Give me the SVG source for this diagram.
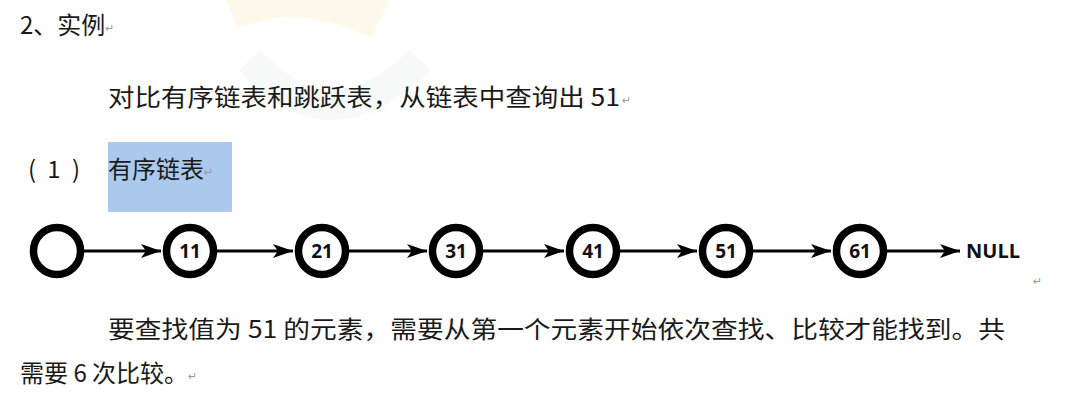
<svg xmlns="http://www.w3.org/2000/svg" width="1091" height="414" viewBox="0 0 1091 414">
<style>
.t{font-family:"Noto Sans CJK SC","Noto Sans",sans-serif;font-size:24px;fill:#1a1a1a}
.n{font-family:"Open Sans","Noto Sans",sans-serif;font-weight:bold;font-size:19px;fill:#111;text-anchor:middle}
.c{fill:#fff;stroke:#000;stroke-width:7.5}
.e{stroke:#000;stroke-width:3;fill:none;marker-end:url(#ah)}
.r{font-family:"DejaVu Sans",sans-serif;font-size:11px;fill:#999}
</style>
<defs>
<marker id="ah" markerUnits="userSpaceOnUse" markerWidth="22" markerHeight="16" refX="20" refY="8" orient="auto">
<path d="M0,1 L20,8 L0,15 L5,8 z" fill="#000"/>
</marker>
</defs>
<rect width="1091" height="414" fill="#fff"/>
<g id="watermark" opacity="0.35">
<path d="M230,10 Q300,-20 380,20" stroke="#fdf0c8" stroke-width="40" fill="none"/>
<path d="M250,60 Q330,150 420,60" stroke="#e6f5ef" stroke-width="30" fill="none"/>
</g>
<g id="texts">
<text class="t" x="20" y="34">2、实例<tspan class="r" dy="-2">↵</tspan></text>
<text class="t" x="108" y="106" textLength="512" lengthAdjust="spacingAndGlyphs">对比有序链表和跳跃表，从链表中查询出 51</text>
<text class="r" x="622" y="104">↵</text>
<text class="t" x="28" y="178" textLength="52" lengthAdjust="spacing">( 1 )</text>
<rect x="108" y="142" width="124" height="70" fill="#aac9ec"/>
<text class="t" x="108" y="178">有序链表<tspan class="r" dy="-2">↵</tspan></text>
<text class="r" x="1033" y="285">↵</text>
<text class="t" x="108" y="338" textLength="897" lengthAdjust="spacingAndGlyphs">要查找值为 51 的元素，需要从第一个元素开始依次查找、比较才能找到。共</text>
<text class="t" x="20" y="382">需要 6 次比较。<tspan class="r" dy="-2">↵</tspan></text>
</g>
<g id="connectors">
<line class="e" x1="84" y1="251" x2="161" y2="251"/>
<line class="e" x1="217" y1="251" x2="293" y2="251"/>
<line class="e" x1="349" y1="251" x2="427" y2="251"/>
<line class="e" x1="483" y1="251" x2="564" y2="251"/>
<line class="e" x1="620" y1="251" x2="697" y2="251"/>
<line class="e" x1="753" y1="251" x2="831" y2="251"/>
<line class="e" x1="887" y1="251" x2="960" y2="251"/>
</g>
<g id="node0"><circle class="c" cx="57" cy="251" r="23.5"/></g>
<g id="node11"><circle class="c" cx="190" cy="251" r="23.5"/><text class="n" x="190" y="258">11</text></g>
<g id="node21"><circle class="c" cx="322" cy="251" r="23.5"/><text class="n" x="322" y="258">21</text></g>
<g id="node31"><circle class="c" cx="456" cy="251" r="23.5"/><text class="n" x="456" y="258">31</text></g>
<g id="node41"><circle class="c" cx="593" cy="251" r="23.5"/><text class="n" x="593" y="258">41</text></g>
<g id="node51"><circle class="c" cx="726" cy="251" r="23.5"/><text class="n" x="726" y="258">51</text></g>
<g id="node61"><circle class="c" cx="860" cy="251" r="23.5"/><text class="n" x="860" y="258">61</text></g>
<g id="null"><text class="n" x="966" y="258" style="font-size:20px;text-anchor:start">NULL</text></g>
</svg>
